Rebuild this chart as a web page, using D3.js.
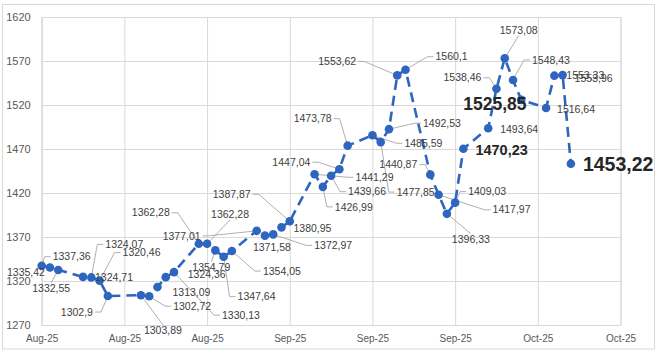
<!DOCTYPE html>
<html>
<head>
<meta charset="utf-8">
<script src="https://cdn.jsdelivr.net/npm/d3@7"></script>
<style>
  html, body { margin: 0; padding: 0; background: #fff; }
  svg { display: block; }
  text { font-family: "Liberation Sans", Arial, sans-serif; }
</style>
</head>
<body>
<div id="chart"></div>
<script>
// ---------- data ----------
const dates = [
  "2025-08-06","2025-08-07","2025-08-08","2025-08-11","2025-08-12","2025-08-13","2025-08-14",
  "2025-08-18","2025-08-19","2025-08-20","2025-08-21","2025-08-22",
  "2025-08-25","2025-08-26","2025-08-27","2025-08-28","2025-08-29",
  "2025-09-01","2025-09-02","2025-09-03","2025-09-04","2025-09-05",
  "2025-09-08","2025-09-09","2025-09-10","2025-09-11","2025-09-12",
  "2025-09-15","2025-09-16","2025-09-17","2025-09-18","2025-09-19",
  "2025-09-22","2025-09-23","2025-09-24","2025-09-25","2025-09-26",
  "2025-09-29","2025-09-30","2025-10-01","2025-10-02","2025-10-03",
  "2025-10-06","2025-10-07","2025-10-08","2025-10-09"
];
const values = [
  1337.36, 1335.42, 1332.55, 1324.71, 1324.07, 1320.46, 1302.9,
  1303.89, 1302.72, 1313.09, 1324.36, 1330.13,
  1362.28, 1362.28, 1354.79, 1347.64, 1354.05,
  1377.01, 1371.58, 1372.97, 1380.95, 1387.87,
  1441.29, 1426.99, 1439.66, 1447.04, 1473.78,
  1485.59, 1477.85, 1492.53, 1553.62, 1560.1,
  1440.87, 1417.97, 1396.33, 1409.03, 1470.23,
  1493.64, 1538.46, 1573.08, 1548.43, 1525.85,
  1516.64, 1553.33, 1553.96, 1453.22
];
const yTicks = [1270, 1320, 1370, 1420, 1470, 1520, 1570, 1620];
const xTickDates = ["2025-08-06","2025-08-16","2025-08-26","2025-09-05","2025-09-15","2025-09-25","2025-10-05","2025-10-15"];
const xTickLabels = ["Aug-25","Aug-25","Aug-25","Sep-25","Sep-25","Sep-25","Oct-25","Oct-25"];

// ---------- label layout (offset of label's left/middle from its point) ----------
const labelOffsets = [
  [11,-9],[-43,5],[-26,18],[12,0],[14,-33],[23,-28],[-47,16],
  [3,35],[24,10],[15,5],[22,-3],[48,43],
  [-67,-31],[4,-29],[-23,17],[14,40],[31,20],
  [-94,5],[-12,12],[41,11],[12,1],[-77,-27],
  [41,3],[12,20],[17,16],[-67,-7],[-54,-27],
  [32,8],[16,50],[34,-6],[-79,-14],[30,-13],
  [-51,-10],[54,15],[5,25],[13,-11],[12,1],
  [12,1],[-53,-11],[-5,-28],[19,-20],[-58,4],
  [11,1],[12,0],[12,3],[12,0]
];
const leaderFlags = [
  1,0,1,0,1,1,1,
  1,1,0,0,1,
  1,1,1,1,1,
  1,0,1,0,1,
  1,1,1,1,1,
  1,1,1,1,1,
  1,1,1,1,0,
  0,1,1,1,0,
  0,0,0,0
];
const boldSizes = {36: 14.5, 41: 17.5, 45: 19.5};

// ---------- chart ----------
const W = 664, H = 352;
const plot = {left: 41.7, right: 620.5, top: 17, bottom: 325};
const lineColor = "#2E65BF";
const gridColor = "#D9D9D9";

const parse = d3.utcParse("%Y-%m-%d");
const data = dates.map((d, i) => ({date: parse(d), value: values[i], i}));

const x = d3.scaleUtc()
  .domain([parse(xTickDates[0]), parse(xTickDates[xTickDates.length - 1])])
  .range([plot.left, plot.right]);
const y = d3.scaleLinear()
  .domain([yTicks[0], yTicks[yTicks.length - 1]])
  .range([plot.bottom, plot.top]);

const svg = d3.select("#chart").append("svg")
  .attr("width", W).attr("height", H);

svg.append("rect")
  .attr("x", 2.5).attr("y", 4.5).attr("width", 652).attr("height", 344.5)
  .attr("fill", "#fff").attr("stroke", gridColor).attr("stroke-width", 1);

// y axis (gridlines + labels)
const yAxis = d3.axisLeft(y).tickValues(yTicks)
  .tickSize(-(plot.right - plot.left)).tickPadding(11)
  .tickFormat(d3.format("d"));
const gy = svg.append("g").attr("transform", `translate(${plot.left},0)`).call(yAxis);
gy.select(".domain").attr("stroke", gridColor);
gy.selectAll(".tick line").attr("stroke", gridColor);
gy.selectAll(".tick text")
  .attr("fill", "#595959").attr("font-size", 11)
  .attr("font-family", "Liberation Sans, Arial, sans-serif");

// x axis (gridlines + labels)
const xAxis = d3.axisBottom(x).tickValues(xTickDates.map(parse))
  .tickSize(-(plot.bottom - plot.top)).tickPadding(10)
  .tickFormat((d, i) => xTickLabels[i]);
const gx = svg.append("g").attr("transform", `translate(0,${plot.bottom})`).call(xAxis);
gx.select(".domain").attr("stroke", gridColor);
gx.selectAll(".tick line").attr("stroke", gridColor);
gx.selectAll(".tick text")
  .attr("fill", "#595959").attr("font-size", 10)
  .attr("font-family", "Liberation Sans, Arial, sans-serif");

// line
const line = d3.line().x(d => x(d.date)).y(d => y(d.value));
svg.append("path").datum(data)
  .attr("d", line).attr("fill", "none")
  .attr("stroke", lineColor).attr("stroke-width", 2.6)
  .attr("stroke-dasharray", "10,6");

// labels
const leaderG = svg.append("g");
const labelG = svg.append("g");
const labels = labelG.selectAll("text").data(data).join("text")
  .attr("x", d => x(d.date) + labelOffsets[d.i][0])
  .attr("y", d => y(d.value) + labelOffsets[d.i][1])
  .attr("dy", "0.35em")
  .attr("font-size", d => boldSizes[d.i] || 10.5)
  .attr("font-weight", d => boldSizes[d.i] ? "bold" : "normal")
  .attr("fill", d => boldSizes[d.i] ? "#262626" : "#404040")
  .text(d => String(d.value).replace(".", ","));

labels.each(function(d) {
  if (!leaderFlags[d.i]) return;
  const px = x(d.date), py = y(d.value);
  const fs = boldSizes[d.i] || 10.5;
  const L = +this.getAttribute("x"), C = +this.getAttribute("y");
  const R = L + this.getComputedTextLength();
  const T = C - fs * 0.5, B = C + fs * 0.5;
  let pts;
  if (px < L - 10) pts = [[L - 2, C], [L - 8, C], [px, py]];
  else if (px > R + 10) pts = [[R + 2, C], [R + 8, C], [px, py]];
  else {
    const ax = (L + R) / 2, ay = C > py ? T : B;
    pts = [[ax, ay], [px, py]];
  }
  leaderG.append("path")
    .attr("d", d3.line()(pts))
    .attr("fill", "none").attr("stroke", "#A6A6A6").attr("stroke-width", 0.9);
});

// markers
svg.append("g").selectAll("circle").data(data).join("circle")
  .attr("cx", d => x(d.date)).attr("cy", d => y(d.value))
  .attr("r", 4.3).attr("fill", lineColor);

labelG.raise();
</script>
</body>
</html>
